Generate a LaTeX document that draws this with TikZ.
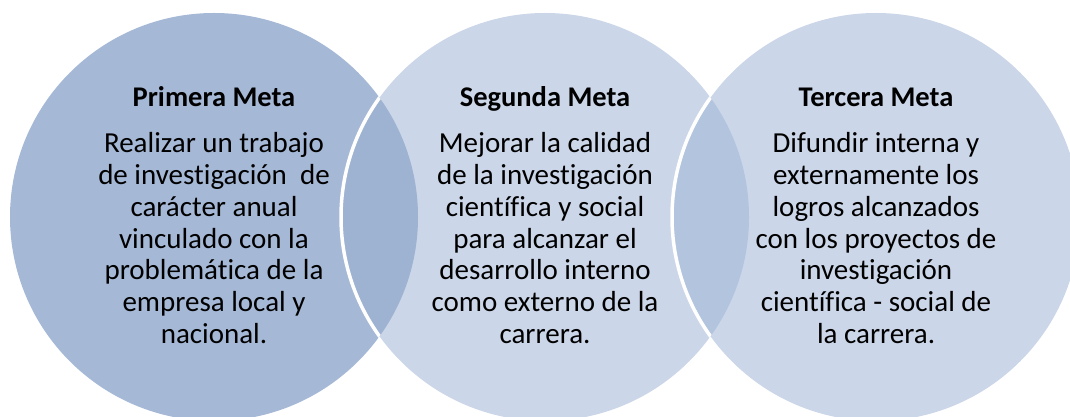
\documentclass[tikz,border=0pt]{standalone}
\usepackage{fontspec}
\setmainfont{Carlito}[Ligatures=NoCommon]
\definecolor{metaUno}{RGB}{165,184,214}
\definecolor{metaDos}{RGB}{203,214,232}
\definecolor{cruceUno}{RGB}{158,178,210}
\definecolor{cruceDos}{RGB}{178,196,222}
\begin{document}
\begin{tikzpicture}[x=1pt,y=1pt,
    titulo/.style={anchor=base,font=\fontsize{28.5}{32}\selectfont\bfseries},
    texto/.style={anchor=base,align=center,font=\fontsize{29}{31.8}\selectfont}]
    \useasboundingbox (0,0) rectangle (1070,417);
    \path (214,200) coordinate (M1) (545,200) coordinate (M2) (876,200) coordinate (M3);
    \fill [metaUno] (M1) circle (204pt);
    \foreach \c in {M2,M3} \fill [metaDos] (\c) circle (204pt);
    \begin{scope}
        \clip (M1) circle (204pt);
        \fill [cruceUno] (M2) circle (204pt);
        \draw [white, line width=3.5pt] (M2) circle (204pt);
    \end{scope}
    \begin{scope}
        \clip (M2) circle (204pt);
        \fill [cruceDos] (M3) circle (204pt);
        \draw [white, line width=3.5pt] (M3) circle (204pt);
    \end{scope}
    \node [titulo] (t1) at (214,310.3) {Primera Meta};
    \node [titulo] (t2) at (545,310.3) {Segunda Meta};
    \node [titulo] (t3) at (876,310.3) {Tercera Meta};
    % anchor base = ultima linea
    \node [texto] (m1) at (214,73.5) {Realizar un trabajo\\de investigación\ \ de\\carácter anual\\vinculado con la\\problemática de la\\empresa local y\\nacional.};
    \node [texto] (m2) at (545,73.5) {Mejorar la calidad\\de la investigación\\científica y social\\para alcanzar el\\desarrollo interno\\como externo de la\\carrera.};
    \node [texto] (m3) at (876,73.5) {Difundir interna y\\externamente los\\logros alcanzados\\con los proyectos de\\investigación\\científica - social de\\la carrera.};
\end{tikzpicture}
\end{document}
